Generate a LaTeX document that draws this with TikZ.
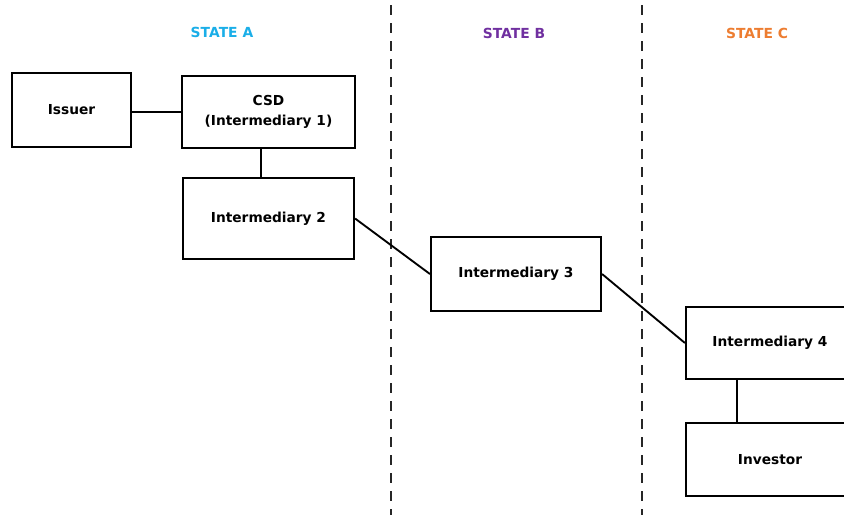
\documentclass[tikz,border=0pt]{standalone}
\usepackage{fontspec}
\setmainfont{DejaVu Sans}
\usetikzlibrary{positioning,calc}
\definecolor{stateA}{HTML}{1AAEE8}
\definecolor{stateB}{HTML}{7030A0}
\definecolor{stateC}{HTML}{ED7D31}
\tikzset{
    party/.style={draw,line width=1.6pt,rectangle,inner sep=0pt,align=center,font=\bfseries\fontsize{10.3}{15}\selectfont},
    link/.style={line width=1.4pt},
    border/.style={line width=1.4pt,dash pattern=on 7.5pt off 6pt,black!85},
    statelabel/.style={font=\bfseries\fontsize{10.4}{12}\selectfont}
}

\begin{document}
\begin{tikzpicture}[x=0.75pt,y=-0.75pt,line cap=butt,line join=miter]
            % --- Frame ---
            \clip (0,0) rectangle (844,515);
            \fill[white] (0,0) rectangle (844,515);

            % --- Borders between states ---
            \draw[border] (391,5) -- (391,515);
            \draw[border] (642,5) -- (642,515);

            % --- State names ---
            \node[statelabel,text=stateA] (stA) at (222,32) {STATE A};
            \node[statelabel,text=stateB] (stB) at (514,33) {STATE B};
            \node[statelabel,text=stateC] (stC) at (757,33) {STATE C};

            % --- Parties ---
            \node[party,minimum width=89.25pt,minimum height=55.5pt] (issuer) at (71.5,110) {Issuer};
            \node[party,minimum width=129.75pt,minimum height=54pt] (csd) at (268.5,112) {CSD\\(Intermediary 1)};
            \node[party,minimum width=128.25pt,minimum height=60.75pt] (int2) at (268.5,218.5) {Intermediary 2};
            \node[party,minimum width=127.5pt,minimum height=55.5pt] (int3) at (516,274) {Intermediary 3};
            \node[party,minimum width=126pt,minimum height=54pt] (int4) at (770,343) {Intermediary 4};
            \node[party,minimum width=126pt,minimum height=54.75pt] (investor) at (770,459.5) {Investor};

            % --- Holding chain ---
            \draw[link] (csd.west -| issuer.east) -- (csd.west);
            \draw[link] ($(csd.south)+(-7.5,0)$) -- ($(int2.north)+(-7.5,0)$);
            \draw[link] (int2.east) -- (int3.west);
            \draw[link] (int3.east) -- (int4.west);
            \draw[link] ($(int4.south)+(-33,0)$) -- ($(investor.north)+(-33,0)$);

        \end{tikzpicture}
\end{document}
